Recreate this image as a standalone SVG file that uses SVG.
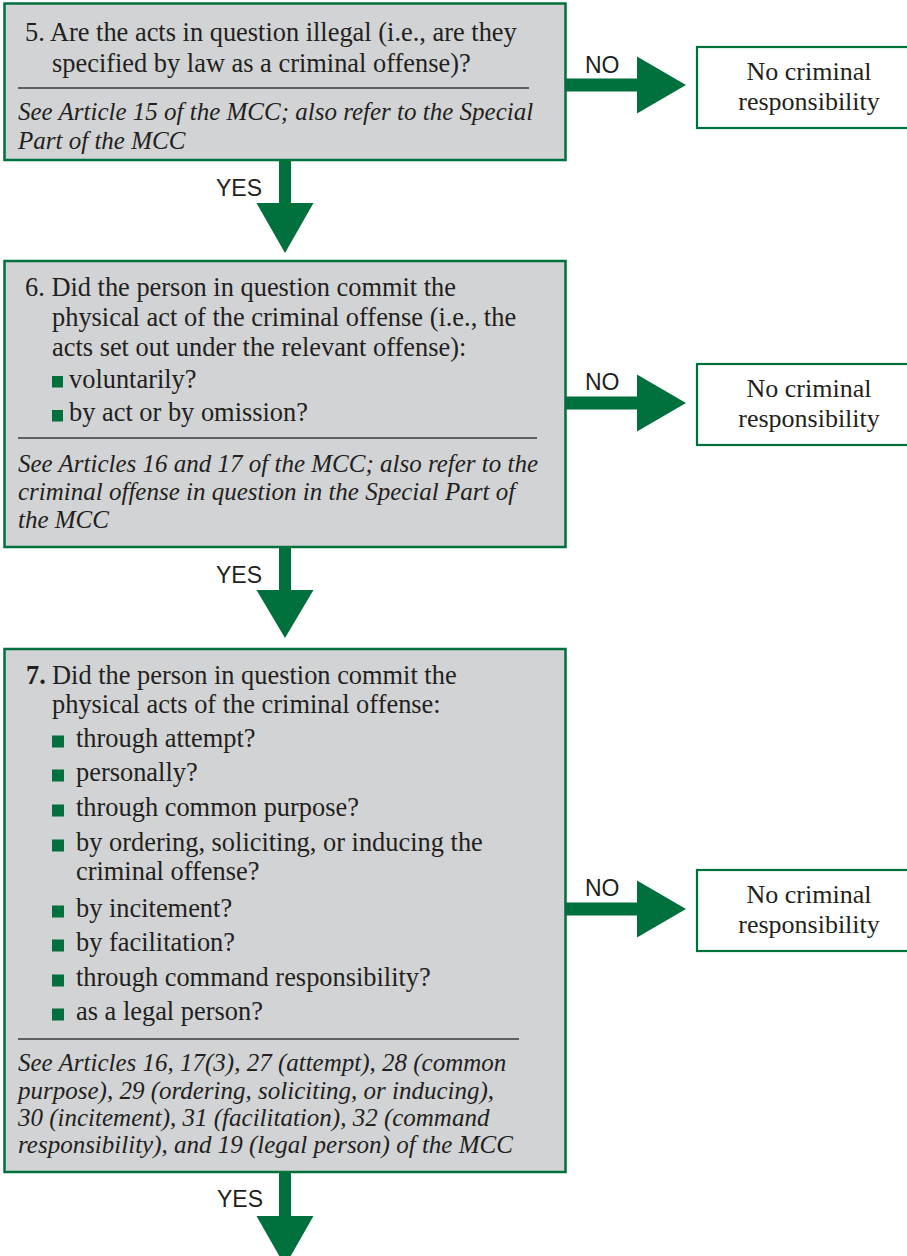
<svg xmlns="http://www.w3.org/2000/svg" width="907" height="1256" viewBox="0 0 907 1256">
<style>
.box{fill:#d1d3d4;stroke:#00703c;stroke-width:2.5}
.out{fill:#ffffff;stroke:#00703c;stroke-width:2.2}
.div{stroke:#3a3a3a;stroke-width:1.4}
.t{font-family:"Liberation Serif","Times New Roman",serif;font-size:26.4px;fill:#231f20}
.i{font-family:"Liberation Serif","Times New Roman",serif;font-size:25px;font-style:italic;fill:#231f20}
.c{font-family:"Liberation Serif","Times New Roman",serif;font-size:26px;fill:#231f20;text-anchor:middle}
.lbl{font-family:"Liberation Sans",Arial,sans-serif;font-size:23px;fill:#231f20}
.arr{fill:#00703c}
.b{fill:#00703c}
</style>
<rect width="907" height="1256" fill="#ffffff"/>

<g id="q5">
<rect class="box" x="4.5" y="3.5" width="561" height="156.5"/>
<text class="t" x="25" y="41">5. Are the acts in question illegal (i.e., are they</text>
<text class="t" x="52" y="72">specified by law as a criminal offense)?</text>
<line class="div" x1="18" y1="88" x2="529" y2="88"/>
<text class="i" x="18" y="120">See Article 15 of the MCC; also refer to the Special</text>
<text class="i" x="18" y="149">Part of the MCC</text>
</g>

<g id="r5">
<rect class="out" x="697" y="47" width="214" height="81"/>
<text class="c" x="809" y="80">No criminal</text>
<text class="c" x="809" y="110">responsibility</text>
</g>

<g id="q6">
<rect class="box" x="4.5" y="261" width="561" height="286"/>
<text class="t" x="25" y="296">6. Did the person in question commit the</text>
<text class="t" x="52" y="326">physical act of the criminal offense (i.e., the</text>
<text class="t" x="52" y="356">acts set out under the relevant offense):</text>
<rect class="b" x="52" y="376" width="11" height="11.5"/>
<text class="t" x="69" y="388">voluntarily?</text>
<rect class="b" x="52" y="410" width="11" height="11.5"/>
<text class="t" x="69" y="421">by act or by omission?</text>
<line class="div" x1="18" y1="438" x2="537" y2="438"/>
<text class="i" x="18" y="472">See Articles 16 and 17 of the MCC; also refer to the</text>
<text class="i" x="18" y="500">criminal offense in question in the Special Part of</text>
<text class="i" x="18" y="528">the MCC</text>
</g>

<g id="r6">
<rect class="out" x="697" y="364" width="214" height="81"/>
<text class="c" x="809" y="397">No criminal</text>
<text class="c" x="809" y="427">responsibility</text>
</g>

<g id="q7">
<rect class="box" x="4.5" y="649" width="561" height="523"/>
<text class="t" x="26" y="684"><tspan font-weight="bold">7.</tspan></text>
<text class="t" x="52" y="684">Did the person in question commit the</text>
<text class="t" x="52" y="713">physical acts of the criminal offense:</text>
<rect class="b" x="52" y="735.5" width="12" height="12"/>
<text class="t" x="76" y="747">through attempt?</text>
<rect class="b" x="52" y="769.5" width="12" height="12"/>
<text class="t" x="76" y="781">personally?</text>
<rect class="b" x="52" y="804.5" width="12" height="12"/>
<text class="t" x="76" y="816">through common purpose?</text>
<rect class="b" x="52" y="839.5" width="12" height="12"/>
<text class="t" x="76" y="851">by ordering, soliciting, or inducing the</text>
<text class="t" x="76" y="880">criminal offense?</text>
<rect class="b" x="52" y="905.5" width="12" height="12"/>
<text class="t" x="76" y="917">by incitement?</text>
<rect class="b" x="52" y="939.5" width="12" height="12"/>
<text class="t" x="76" y="951">by facilitation?</text>
<rect class="b" x="52" y="974.5" width="12" height="12"/>
<text class="t" x="76" y="986">through command responsibility?</text>
<rect class="b" x="52" y="1008.5" width="12" height="12"/>
<text class="t" x="76" y="1020">as a legal person?</text>
<line class="div" x1="18" y1="1039" x2="519" y2="1039"/>
<text class="i" x="18" y="1071">See Articles 16, 17(3), 27 (attempt), 28 (common</text>
<text class="i" x="18" y="1099">purpose), 29 (ordering, soliciting, or inducing),</text>
<text class="i" x="18" y="1126">30 (incitement), 31 (facilitation), 32 (command</text>
<text class="i" x="18" y="1153">responsibility), and 19 (legal person) of the MCC</text>
</g>

<g id="r7">
<rect class="out" x="697" y="870" width="214" height="81"/>
<text class="c" x="809" y="903">No criminal</text>
<text class="c" x="809" y="933">responsibility</text>
</g>

<g id="connectors">
<polygon class="arr" points="566,78.5 637,78.5 637,56.5 686,85 637,113.5 637,91.5 566,91.5"/>
<text class="lbl" x="585" y="73">NO</text>
<polygon class="arr" points="566,396.5 637,396.5 637,374.5 686,403 637,431.5 637,409.5 566,409.5"/>
<text class="lbl" x="585" y="390">NO</text>
<polygon class="arr" points="566,902.5 637,902.5 637,880.5 686,909 637,937.5 637,915.5 566,915.5"/>
<text class="lbl" x="585" y="896">NO</text>

<polygon class="arr" points="279,160 291,160 291,203 313.5,203 285,253 256.5,203 279,203"/>
<text class="lbl" x="216" y="196">YES</text>
<polygon class="arr" points="279,547 291,547 291,590 313.5,590 285,638 256.5,590 279,590"/>
<text class="lbl" x="216" y="583">YES</text>
<polygon class="arr" points="279,1172 291,1172 291,1216 313.5,1216 285,1266 256.5,1216 279,1216"/>
<text class="lbl" x="217" y="1207">YES</text>
</g>
</svg>
